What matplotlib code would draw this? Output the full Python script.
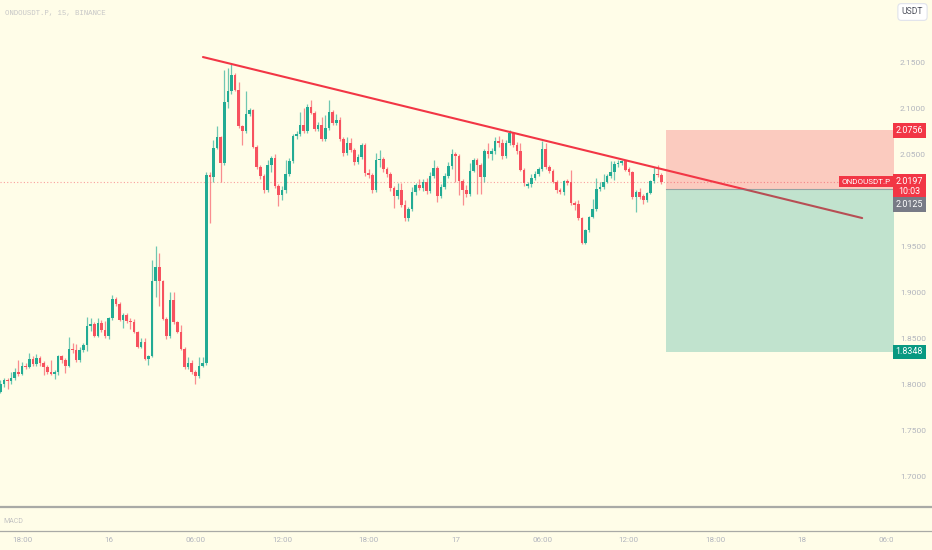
import matplotlib

matplotlib.use("Agg")
import matplotlib.pyplot as plt
import matplotlib.transforms as mtransforms
from matplotlib.lines import Line2D
import numpy as np

# 15m candles, ONDOUSDT.P
opens = [
    1.791, 1.800, 1.804, 1.803, 1.806, 1.813, 1.811, 1.820, 1.818, 1.827,
    1.822, 1.828, 1.823, 1.819, 1.813, 1.811, 1.813, 1.830, 1.826, 1.820,
    1.838, 1.837, 1.826, 1.837, 1.842, 1.863, 1.865, 1.852, 1.866, 1.859,
    1.852, 1.872, 1.892, 1.887, 1.870, 1.875, 1.869, 1.867, 1.857, 1.840,
    1.846, 1.827, 1.830, 1.912, 1.927, 1.912, 1.871, 1.852, 1.891, 1.867,
    1.857, 1.838, 1.818, 1.823, 1.813, 1.809, 1.820, 1.823,
    2.027, 2.025, 2.056, 2.068, 2.040, 2.107, 2.118, 2.136, 2.120, 2.080,
    2.075, 2.093, 2.098, 2.058, 2.036, 2.026, 2.011, 2.038, 2.046, 2.015,
    2.005, 2.011, 2.028, 2.042, 2.070, 2.072, 2.082, 2.075, 2.101, 2.095,
    2.077, 2.082, 2.066, 2.078, 2.096, 2.084, 2.087, 2.066, 2.051, 2.062,
    2.054, 2.041,
    2.047, 2.060, 2.029, 2.027, 2.011, 2.043, 2.045, 2.034, 2.028, 2.013,
    2.004, 2.011, 1.995, 1.980, 1.990, 2.009, 2.016, 2.013, 2.020, 2.010,
    2.026, 2.035, 2.004, 2.014, 2.026, 2.037, 2.050, 2.048, 2.021, 2.011,
    2.007, 2.032, 2.043, 2.038, 2.025, 2.053, 2.050, 2.053, 2.064, 2.062,
    2.048, 2.062, 2.073, 2.060,
    2.053, 2.033, 2.015, 2.017, 2.024, 2.028, 2.034, 2.055, 2.036, 2.031,
    2.020, 2.011, 2.009, 2.021, 2.020, 1.997, 1.996, 1.980, 1.953, 1.967,
    1.982, 1.990, 2.012, 2.014, 2.020, 2.026, 2.030, 2.039, 2.040, 2.042,
    2.034, 2.030, 2.003, 2.009, 2.004, 2.000, 2.008, 2.021, 2.028, 2.027,
]
closes = [
    1.800, 1.804, 1.803, 1.806, 1.813, 1.811, 1.820, 1.818, 1.827, 1.822,
    1.828, 1.823, 1.819, 1.813, 1.811, 1.813, 1.830, 1.826, 1.820, 1.838,
    1.837, 1.826, 1.837, 1.842, 1.863, 1.865, 1.852, 1.866, 1.859, 1.852,
    1.872, 1.892, 1.887, 1.870, 1.875, 1.869, 1.867, 1.857, 1.840, 1.846,
    1.827, 1.830, 1.912, 1.927, 1.912, 1.871, 1.852, 1.891, 1.867, 1.857,
    1.838, 1.818, 1.823, 1.813, 1.809, 1.820, 1.823, 2.027,
    2.025, 2.056, 2.068, 2.040, 2.107, 2.118, 2.136, 2.120, 2.080, 2.075,
    2.093, 2.098, 2.058, 2.036, 2.026, 2.011, 2.038, 2.046, 2.015, 2.005,
    2.011, 2.028, 2.042, 2.070, 2.072, 2.082, 2.075, 2.101, 2.095, 2.077,
    2.082, 2.066, 2.078, 2.096, 2.084, 2.087, 2.066, 2.051, 2.062, 2.054,
    2.041, 2.047,
    2.060, 2.029, 2.027, 2.011, 2.043, 2.045, 2.034, 2.028, 2.013, 2.004,
    2.011, 1.995, 1.980, 1.990, 2.009, 2.016, 2.013, 2.020, 2.010, 2.026,
    2.035, 2.004, 2.014, 2.026, 2.037, 2.050, 2.048, 2.021, 2.011, 2.007,
    2.032, 2.043, 2.038, 2.025, 2.053, 2.050, 2.053, 2.064, 2.062, 2.048,
    2.062, 2.073, 2.060, 2.053,
    2.033, 2.018, 2.017, 2.024, 2.028, 2.034, 2.055, 2.036, 2.031, 2.020,
    2.011, 2.009, 2.021, 2.018, 1.997, 1.995, 1.980, 1.953, 1.967, 1.982,
    1.990, 2.012, 2.014, 2.020, 2.026, 2.030, 2.039, 2.040, 2.042, 2.033,
    2.030, 2.003, 2.009, 2.003, 2.000, 2.008, 2.021, 2.028, 2.027, 2.0197,
]
highs = [
    1.804, 1.807, 1.806, 1.813, 1.817, 1.826, 1.824, 1.823, 1.834, 1.830,
    1.833, 1.830, 1.825, 1.821, 1.826, 1.815, 1.831, 1.831, 1.828, 1.851,
    1.845, 1.843, 1.840, 1.845, 1.873, 1.872, 1.867, 1.872, 1.870, 1.868,
    1.873, 1.897, 1.895, 1.889, 1.877, 1.877, 1.872, 1.871, 1.858, 1.850,
    1.850, 1.832, 1.935, 1.950, 1.942, 1.913, 1.873, 1.900, 1.900, 1.869,
    1.864, 1.840, 1.829, 1.826, 1.815, 1.829, 1.829, 2.030,
    2.030, 2.065, 2.080, 2.070, 2.141, 2.143, 2.149, 2.138, 2.128, 2.082,
    2.118, 2.100, 2.099, 2.060, 2.038, 2.028, 2.043, 2.048, 2.050, 2.017,
    2.015, 2.043, 2.046, 2.072, 2.075, 2.096, 2.100, 2.104, 2.109, 2.097,
    2.085, 2.090, 2.092, 2.109, 2.098, 2.094, 2.090, 2.068, 2.068, 2.067,
    2.056, 2.050,
    2.062, 2.062, 2.034, 2.029, 2.051, 2.054, 2.047, 2.036, 2.030, 2.015,
    2.019, 2.018, 2.000, 1.992, 2.014, 2.018, 2.023, 2.023, 2.024, 2.030,
    2.043, 2.037, 2.017, 2.029, 2.041, 2.055, 2.052, 2.050, 2.023, 2.016,
    2.040, 2.046, 2.046, 2.040, 2.055, 2.062, 2.057, 2.068, 2.070, 2.066,
    2.065, 2.076, 2.074, 2.063,
    2.062, 2.035, 2.020, 2.028, 2.031, 2.036, 2.064, 2.062, 2.038, 2.034,
    2.022, 2.013, 2.022, 2.023, 2.033, 1.999, 2.000, 1.982, 1.969, 1.983,
    2.001, 2.024, 2.020, 2.028, 2.028, 2.042, 2.042, 2.044, 2.044, 2.044,
    2.036, 2.031, 2.011, 2.013, 2.006, 2.009, 2.022, 2.036, 2.038, 2.029,
]
lows = [
    1.790, 1.797, 1.795, 1.800, 1.804, 1.809, 1.810, 1.816, 1.817, 1.820,
    1.820, 1.820, 1.810, 1.811, 1.810, 1.805, 1.810, 1.823, 1.812, 1.819,
    1.834, 1.824, 1.824, 1.835, 1.836, 1.858, 1.851, 1.851, 1.856, 1.850,
    1.849, 1.870, 1.885, 1.868, 1.861, 1.866, 1.860, 1.855, 1.839, 1.839,
    1.826, 1.821, 1.829, 1.895, 1.885, 1.870, 1.849, 1.850, 1.865, 1.855,
    1.837, 1.816, 1.816, 1.811, 1.800, 1.806, 1.818, 1.821,
    1.975, 2.020, 2.055, 2.020, 2.038, 2.100, 2.115, 2.118, 2.078, 2.060,
    2.073, 2.091, 2.056, 2.034, 2.023, 2.008, 2.009, 2.030, 2.013, 1.993,
    2.000, 2.008, 2.026, 2.040, 2.066, 2.070, 2.073, 2.073, 2.093, 2.075,
    2.075, 2.064, 2.064, 2.076, 2.082, 2.082, 2.064, 2.048, 2.049, 2.052,
    2.038, 2.039,
    2.045, 2.026, 2.024, 2.008, 2.009, 2.036, 2.030, 2.025, 2.010, 1.991,
    2.001, 1.992, 1.977, 1.977, 1.988, 2.005, 2.011, 2.010, 2.007, 2.008,
    2.024, 1.998, 2.002, 2.012, 2.024, 2.034, 2.020, 2.005, 1.995, 2.003,
    2.004, 2.030, 2.007, 2.007, 2.020, 2.046, 2.043, 2.050, 2.058, 2.045,
    2.046, 2.060, 2.058, 2.050,
    2.031, 2.015, 2.013, 2.014, 2.022, 2.026, 2.032, 2.034, 2.029, 2.018,
    2.008, 2.007, 2.005, 2.016, 1.995, 1.989, 1.978, 1.952, 1.952, 1.965,
    1.980, 1.988, 2.010, 2.012, 2.018, 2.024, 2.022, 2.036, 2.038, 2.031,
    2.027, 2.001, 1.987, 2.001, 1.996, 1.998, 2.006, 2.019, 2.025, 2.017,
]

# trend line drawn on the chart (bar index, price)
trend_x = [56.1, 238.6]
trend_y = [2.1554, 1.9804]

# short position tool
pos_x = [184.3, 248.0]
stop_price = 2.0756
entry_price = 2.0125
target_price = 1.8348
last_price = 2.0197

# 2.0000 sits under the entry label in the screenshot, so it is not shown
y_ticks = [1.70, 1.75, 1.80, 1.85, 1.90, 1.95, 2.05, 2.10, 2.15]
x_tick_bars = [6, 30, 54, 78, 102, 126, 150, 174, 198, 222, 246]
x_tick_labels = ["18:00", "16", "06:00", "12:00", "18:00", "17", "06:00",
                 "12:00", "18:00", "18", "06:00"]

BG = "#fffde8"
UP = "#22ab94"
DOWN = "#f7525f"
RED = "#f23645"
GREEN = "#089981"
GREY = "#787b86"
TXT = "#b2b5be"
FONT = ["Roboto", "DejaVu Sans"]

plt.rcParams["font.family"] = FONT

W, H = 932, 550
fig = plt.figure(figsize=(W / 100, H / 100), dpi=100, facecolor=BG)
ax = fig.add_axes([0, 44 / H, 893 / W, 506 / H], facecolor=BG)
ax_macd = fig.add_axes([0, 19 / H, 893 / W, 25 / H], facecolor=BG, sharex=ax)

o = np.array(opens)
c = np.array(closes)
hi = np.array(highs)
lo = np.array(lows)
idx = np.arange(len(o))
up = c >= o
colors = np.where(up, UP, DOWN)

# wicks then bodies
ax.vlines(idx, lo, hi, colors=colors, linewidth=0.9, alpha=0.65, zorder=2)
body = np.maximum(np.abs(c - o), 0.0009)
ax.bar(idx, body, bottom=np.minimum(o, c), width=0.72, color=colors,
       linewidth=0, zorder=3)

# trend line (under the position boxes)
ax.plot(trend_x, trend_y, color=RED, linewidth=1.5, zorder=4,
        solid_capstyle="round")

# position boxes
ax.fill_between(pos_x, entry_price, stop_price, color=RED, alpha=0.25,
                linewidth=0, zorder=5)
ax.fill_between(pos_x, target_price, entry_price, color=GREEN, alpha=0.25,
                linewidth=0, zorder=5)
ax.plot(pos_x, [entry_price, entry_price], color=GREY, linewidth=0.8,
        alpha=0.6, zorder=6)

# last price dotted line
ax.axhline(last_price, color=DOWN, linewidth=0.8, alpha=0.55,
           linestyle=(0, (1, 2)), zorder=1)

ax.set_xlim(-0.091, 247.14)
ax.set_ylim(1.6674, 2.2174)
for a in (ax, ax_macd):
    for s in a.spines.values():
        s.set_visible(False)

ax.yaxis.tick_right()
ax.set_yticks(y_ticks)
ax.set_yticklabels([f"{v:.4f}" for v in y_ticks])
ax.tick_params(axis="y", length=0, pad=5, labelsize=6.0, labelcolor=TXT)
ax.tick_params(axis="x", bottom=False, labelbottom=False)

ax_macd.set_yticks([])
ax_macd.set_xticks(x_tick_bars)
ax_macd.set_xticklabels(x_tick_labels)
ax_macd.tick_params(axis="x", length=0, pad=4, labelsize=5.8, labelcolor=TXT)
clip = mtransforms.TransformedBbox(
    mtransforms.Bbox([[0, 0], [893 / W, 1]]), fig.transFigure)
for lab in ax_macd.get_xticklabels():
    lab.set_clip_box(clip)
    lab.set_clip_on(True)
ax_macd.text(0.004, 0.38, "MACD", transform=ax_macd.transAxes, fontsize=5,
             color="#c3c3c3", va="center", ha="left")

# pane separators
fig.add_artist(Line2D([0, 1], [1 - 507 / H] * 2, color="#a9aaa6",
                      linewidth=1.6, transform=fig.transFigure))
fig.add_artist(Line2D([0, 1], [1 - 531 / H] * 2, color="#a9aaa6",
                      linewidth=0.9, transform=fig.transFigure))

# header
fig.text(5 / W, 1 - 13 / H, "ONDOUSDT.P, 15, BINANCE", fontsize=5.3,
         color="#c8c8c8", family=["Liberation Mono", "DejaVu Sans Mono"],
         va="center", ha="left")
fig.text(912.5 / W, 1 - 12 / H, "USDT", fontsize=6.2, color="#50535e",
         va="center", ha="center",
         bbox=dict(boxstyle="round,pad=0.45,rounding_size=0.4", fc="white",
                   ec="#e0e3eb", lw=0.8))

# price axis labels
right = mtransforms.blended_transform_factory(ax.transAxes, ax.transData)
lab_kw = dict(fontsize=6.4, color="white", va="center", ha="left",
              transform=right, clip_on=False, zorder=10)
ax.text(1.003, stop_price, "2.0756",
        bbox=dict(boxstyle="square,pad=0.3", fc=RED, ec="none"), **lab_kw)
ax.text(1.003, last_price - 0.0048, f"{last_price:.4f}\n10:03",
        multialignment="center", linespacing=1.2,
        bbox=dict(boxstyle="square,pad=0.3", fc=RED, ec="none"), **lab_kw)
ax.annotate(f"{entry_price:.4f}", xy=(1.003, entry_price), xycoords=right,
            xytext=(0, -16), textcoords="offset pixels", fontsize=6.4,
            color="white", va="center", ha="left", annotation_clip=False,
            zorder=10,
            bbox=dict(boxstyle="square,pad=0.3", fc=GREY, ec="none"))
ax.text(1.003, target_price, f"{target_price:.4f}",
        bbox=dict(boxstyle="square,pad=0.3", fc=GREEN, ec="none"), **lab_kw)
ax.text(0.9975, last_price, "ONDOUSDT.P", fontsize=5.8, color="white",
        va="center", ha="right", transform=right, zorder=10,
        bbox=dict(boxstyle="square,pad=0.3", fc=RED, ec="none"))

fig.savefig("out.png", dpi=100, facecolor=BG)
